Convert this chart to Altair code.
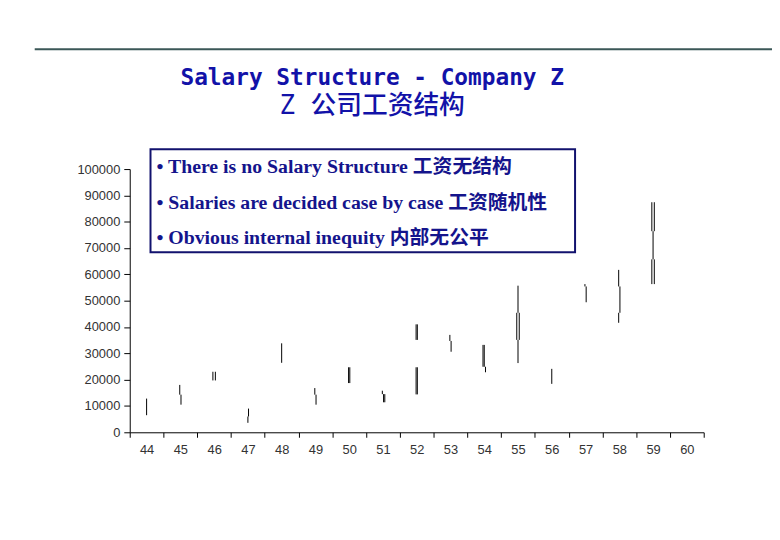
import pandas as pd
import altair as alt

# Ages on the x axis
ages = [str(a) for a in range(44, 61)]

# Salary segments: age, low, high, strand (parallel line index)
seg_age = ["44", "45", "45", "46", "46", "47", "47", "48", "49", "49",
           "50", "50", "51", "51", "51", "52", "52", "52", "52", "53", "53",
           "54", "54", "54", "55", "55", "55", "55", "56", "57", "57",
           "58", "58", "58", "59", "59", "59", "59", "59"]
seg_low = [6500, 14300, 10500, 19700, 19700, 6000, 3600, 26400, 14300, 10500,
           18700, 18700, 14500, 11400, 11400, 35100, 35100, 14400, 14400, 34700, 30600,
           24900, 24900, 22800, 45400, 35100, 35100, 26300, 18400, 55400, 49400,
           55400, 45400, 41600, 76400, 76400, 65700, 56300, 56300]
seg_high = [12800, 18000, 14300, 23000, 23000, 9000, 6000, 33800, 16800, 14300,
            24700, 24700, 15800, 14500, 14500, 41000, 41000, 24700, 24700, 37000, 34700,
            33200, 33200, 24900, 55700, 45400, 45400, 35100, 24100, 56300, 55400,
            61700, 55400, 45400, 87400, 87400, 76400, 65700, 65700]
seg_lane = [0, -0.5, 0.5, -1, 1, 0.5, 0, 0, -0.5, 0.5,
            -0.5, 0.5, -0.5, 0.5, 1.5, -0.5, 0.5, -0.5, 0.5, -0.5, 0.5,
            -1, 0, 1, 0, -1, 1, 0, 0, -0.5, 0.5,
            -0.5, 0.5, -0.5, -1, 1, 0, -1, 1]

y_ticks = list(range(0, 100001, 10000))

title_line1 = "Salary Structure - Company Z"
title_line2 = "Z 公司工资结构"
notes = [
    "• There is no Salary Structure 工资无结构",
    "• Salaries are decided case by case  工资随机性",
    "• Obvious internal inequity  内部无公平",
]

df = pd.DataFrame({"age": seg_age, "low": seg_low, "high": seg_high, "lane": seg_lane})
one = pd.DataFrame({"n": [0]})

W, H = 580, 266
half_band = W / len(ages) / 2  # strands sit around the middle of each age band

segments = alt.Chart(df).mark_rule(color="black", strokeWidth=1).encode(
    x=alt.X("age:O", sort=ages,
            scale=alt.Scale(domain=ages, paddingInner=0, paddingOuter=0),
            axis=alt.Axis(title=None, labelAngle=0, tickBand="extent", tickSize=5,
                          labelFont="Liberation Sans", labelFontSize=13, labelColor="#333333",
                          labelPadding=6, domainColor="black", tickColor="black")),
    xOffset=alt.XOffset("lane:Q", scale=alt.Scale(domain=[-2, 2],
                                                  range=[half_band - 2.5, half_band + 2.5])),
    y=alt.Y("low:Q", scale=alt.Scale(domain=[0, 100000], nice=False),
            axis=alt.Axis(title=None, values=y_ticks, format="d", grid=False, tickSize=6,
                          labelFont="Liberation Sans", labelFontSize=13, labelColor="#333333",
                          labelPadding=4, domainColor="black", tickColor="black")),
    y2="high:Q",
)

# Dark line across the top of the slide
top_line = alt.Chart(one).mark_rule(color="#3b5757", strokeWidth=2).encode(
    x=alt.value(-96), x2=alt.value(660), y=alt.value(-121)
)

# Two-line heading
title_font = "DejaVu Sans Mono, Noto Sans CJK SC"
heading1 = alt.Chart(one).mark_text(
    align="center", baseline="alphabetic", font=title_font, fontSize=23,
    fontWeight="bold", color="#1212a8"
).encode(x=alt.value(245), y=alt.value(-85), text=alt.value(title_line1))

heading2 = alt.Chart(one).mark_text(
    align="center", baseline="alphabetic", font=title_font, fontSize=26,
    fontWeight=500, color="#1212a8"
).encode(x=alt.value(245), y=alt.value(-56), text=alt.value(title_line2))

# Framed note box
box = alt.Chart(one).mark_rect(fill="white", stroke="#12126e", strokeWidth=2).encode(
    x=alt.value(21), x2=alt.value(450), y=alt.value(-20), y2=alt.value(84)
)

note_text = alt.Chart(one).mark_text(
    align="left", baseline="alphabetic", font="Liberation Serif, Noto Sans CJK SC",
    fontSize=20, fontWeight="bold", color="#14148c", lineHeight=36
).encode(
    x=alt.value(27), y=alt.value(4), text=alt.value(notes)
)

chart = alt.layer(segments, top_line, heading1, heading2, box, note_text).properties(
    width=W,
    height=H,
    autosize=alt.AutoSizeParams(type="none"),
    padding={"left": 123, "top": 160, "right": 69, "bottom": 98},
).configure_view(stroke=None)

chart.save("out.html", embed_options={"renderer": "svg", "actions": False})
